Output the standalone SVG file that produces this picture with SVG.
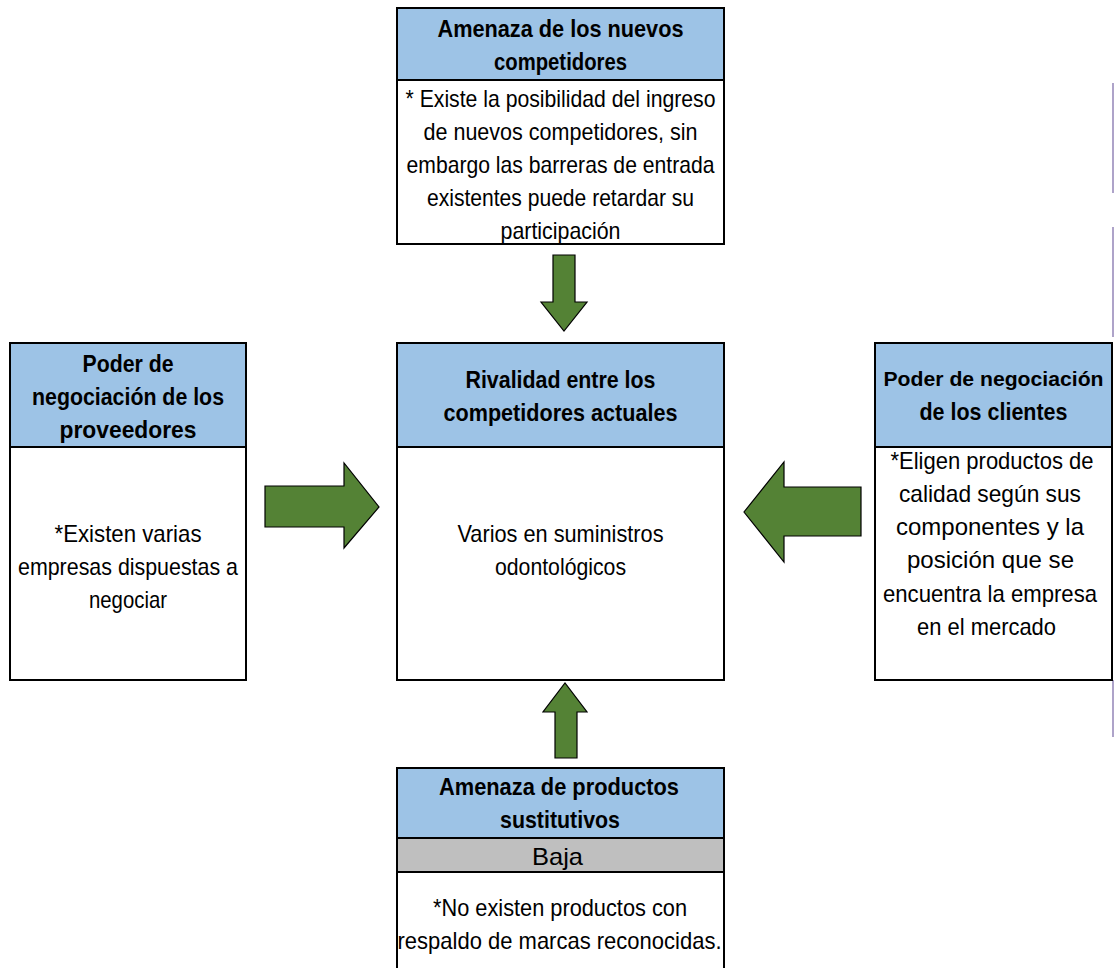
<svg xmlns="http://www.w3.org/2000/svg" width="1117" height="968" viewBox="0 0 1117 968">
<style>
.box{fill:#ffffff;stroke:#000000;stroke-width:2}
.hdr{fill:#9DC3E6;stroke:#000000;stroke-width:2}
.gray{fill:#BFBFBF;stroke:#000000;stroke-width:2}
.arrow{fill:#548235;stroke:#000000;stroke-width:1.2;stroke-linejoin:miter}
.purple{stroke:#9A8CBC;stroke-width:1.6;fill:none}
text{font-family:"Liberation Sans Narrow","Liberation Sans",Arial,sans-serif;font-size:24px;fill:#000000;text-anchor:middle}
.b{font-weight:bold}
.sm{font-size:21px}
</style>
<rect x="0" y="0" width="1117" height="968" fill="#ffffff"/>
<g id="decor">
<line class="purple" x1="1113" y1="83" x2="1113" y2="193"/>
<line class="purple" x1="1113" y1="227" x2="1113" y2="337"/>
<line class="purple" x1="1113" y1="680" x2="1113" y2="737"/>
</g>
<g id="node-nuevos">
<rect class="box" x="397" y="8" width="327" height="236"/>
<rect class="hdr" x="397" y="8" width="327" height="72"/>
<text class="b" x="560.5" y="37" textLength="246" lengthAdjust="spacingAndGlyphs">Amenaza de los nuevos</text>
<text class="b" x="560.5" y="70" textLength="133" lengthAdjust="spacingAndGlyphs">competidores</text>
<text x="560.5" y="107" textLength="310" lengthAdjust="spacingAndGlyphs">* Existe la posibilidad del ingreso</text>
<text x="560.5" y="140" textLength="274" lengthAdjust="spacingAndGlyphs">de nuevos competidores, sin</text>
<text x="560.5" y="173" textLength="308" lengthAdjust="spacingAndGlyphs">embargo las barreras de entrada</text>
<text x="560.5" y="206" textLength="267" lengthAdjust="spacingAndGlyphs">existentes puede retardar su</text>
<text x="560.5" y="239" textLength="120" lengthAdjust="spacingAndGlyphs">participación</text>
</g>
<g id="node-proveedores">
<rect class="box" x="10" y="343" width="236" height="337"/>
<rect class="hdr" x="10" y="343" width="236" height="104"/>
<text class="b" x="128" y="372" textLength="91" lengthAdjust="spacingAndGlyphs">Poder de</text>
<text class="b" x="128" y="405" textLength="192" lengthAdjust="spacingAndGlyphs">negociación de los</text>
<text class="b" x="128" y="438" textLength="137" lengthAdjust="spacingAndGlyphs">proveedores</text>
<text x="128" y="542" textLength="147" lengthAdjust="spacingAndGlyphs">*Existen varias</text>
<text x="128" y="575" textLength="220" lengthAdjust="spacingAndGlyphs">empresas dispuestas a</text>
<text x="128" y="608" textLength="78" lengthAdjust="spacingAndGlyphs">negociar</text>
</g>
<g id="node-rivalidad">
<rect class="box" x="397" y="343" width="327" height="337"/>
<rect class="hdr" x="397" y="343" width="327" height="104"/>
<text class="b" x="560.5" y="388" textLength="190" lengthAdjust="spacingAndGlyphs">Rivalidad entre los</text>
<text class="b" x="560.5" y="421" textLength="234" lengthAdjust="spacingAndGlyphs">competidores actuales</text>
<text x="560.5" y="542" textLength="206" lengthAdjust="spacingAndGlyphs">Varios en suministros</text>
<text x="560.5" y="575" textLength="131" lengthAdjust="spacingAndGlyphs">odontológicos</text>
</g>
<g id="node-clientes">
<rect class="box" x="875" y="343" width="237" height="337"/>
<rect class="hdr" x="875" y="343" width="237" height="104"/>
<text class="b sm" x="993.5" y="386" textLength="220" lengthAdjust="spacingAndGlyphs">Poder de negociación</text>
<text class="b" x="993.5" y="420" textLength="148" lengthAdjust="spacingAndGlyphs">de los clientes</text>
<text x="992" y="469" textLength="203" lengthAdjust="spacingAndGlyphs">*Eligen productos de</text>
<text x="990" y="502" textLength="182" lengthAdjust="spacingAndGlyphs">calidad según sus</text>
<text x="990" y="535" textLength="188" lengthAdjust="spacingAndGlyphs">componentes y la</text>
<text x="990.5" y="568" textLength="167" lengthAdjust="spacingAndGlyphs">posición que se</text>
<text x="990" y="602" textLength="214" lengthAdjust="spacingAndGlyphs">encuentra la empresa</text>
<text x="986.5" y="635" textLength="139" lengthAdjust="spacingAndGlyphs">en el mercado</text>
</g>
<g id="node-sustitutivos">
<rect class="box" x="397" y="768" width="327" height="210"/>
<rect class="hdr" x="397" y="768" width="327" height="70"/>
<rect class="gray" x="397" y="838" width="327" height="34"/>
<text class="b" x="559" y="795" textLength="240" lengthAdjust="spacingAndGlyphs">Amenaza de productos</text>
<text class="b" x="560" y="828" textLength="120" lengthAdjust="spacingAndGlyphs">sustitutivos</text>
<text x="557.5" y="865" textLength="51" lengthAdjust="spacingAndGlyphs">Baja</text>
<text x="560" y="916" textLength="254" lengthAdjust="spacingAndGlyphs">*No existen productos con</text>
<text x="559.5" y="949" textLength="324" lengthAdjust="spacingAndGlyphs">respaldo de marcas reconocidas.</text>
</g>
<g id="connectors">
<polygon class="arrow" points="553,255 575,255 575,302 587,302 564,331 541,302 553,302"/>
<polygon class="arrow" points="265,486 344,486 344,463 379,507 344,548 344,527 265,527"/>
<polygon class="arrow" points="861,487 784,487 784,462 744,512 784,562 784,536 861,536"/>
<polygon class="arrow" points="555,758 577,758 577,712 587,712 565,683 543,712 555,712"/>
</g>
</svg>
